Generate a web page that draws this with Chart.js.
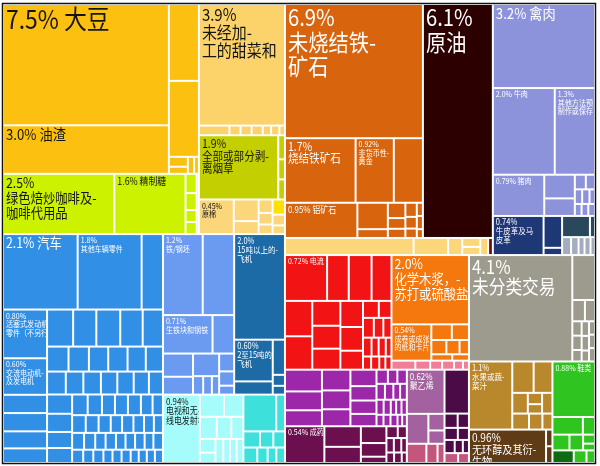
<!DOCTYPE html>
<html>
<head>
<meta charset="utf-8">
<script src="https://cdn.jsdelivr.net/npm/chart.js@4.4.1/dist/chart.umd.min.js"></script>
<style>
  html, body { margin: 0; padding: 0; background: #fff; }
  canvas { display: block; }
</style>
</head>
<body>
<canvas id="myChart" width="600" height="466"></canvas>
<script>
// export shares (%), one small array per coloured block
// vegetable products
const soyValues = [7.5, 3.0, 0.86, 0.85, 0.07, 0.05, 0.04, 0.03];
const soyLabels = ['7.5% 大豆', '3.0% 油渣'];
const limeValues = [2.5, 1.6, 0.08, 0.07, 0.05, 0.05, 0.03, 0.02];
const limeLabels = ['2.5%\n绿色焙炒咖啡及-\n咖啡代用品', '1.6% 精制糖'];
const beetValues = [3.9, 0.11, 0.04, 0.04, 0.04, 0.03, 0.03, 0.02];
const beetLabels = ['3.9%\n未经加-\n工的甜菜和'];
const tobaccoValues = [1.9, 0.06, 0.05, 0.05];
const tobaccoLabels = ['1.9%\n全部或部分剥-\n离烟草'];
const cottonValues = [0.45, 0.2, 0.12, 0.07, 0.06, 0.05, 0.05, 0.04];
const cottonLabels = ['0.45%\n原棉'];
const yelValues = [0.07];

// transport, metals, machines
const carValues = [2.1, 1.8, 0.6,
  0.8, 0.6, 0.3, 0.3, 0.28, 0.24,
  0.36, 0.32, 0.33, 0.31, 0.28,
  0.2, 0.19, 0.18, 0.18, 0.17, 0.16,
  0.16, 0.15, 0.15, 0.14, 0.14, 0.13, 0.12,
  0.18, 0.17, 0.15, 0.14,
  0.12, 0.11, 0.1, 0.1, 0.1, 0.09, 0.08,
  0.09, 0.085, 0.08, 0.075, 0.075, 0.07, 0.065, 0.06,
  0.075, 0.07, 0.065, 0.065, 0.06, 0.06, 0.06, 0.055, 0.06,
  0.055, 0.05, 0.05, 0.045, 0.045, 0.045, 0.04, 0.04, 0.04, 0.04];
const carLabels = ['2.1% 汽车', '1.8%\n其他车辆零件', '', '0.80%\n活塞式发动机-\n零件（不另行列明）', '0.60%\n交流电动机-\n及发电机'];
const steelValues = [1.2, 0.95, 0.71, 0.31, 0.26, 0.2, 0.22, 0.07, 0.06, 0.05, 0.1, 0.08, 0.05];
const steelLabels = ['1.2%\n铁/钢坯', '', '0.71%\n生铁块和钢铁'];
const planeValues = [2.0, 0.6, 0.19, 0.16, 0.05, 0.04];
const planeLabels = ['2.0%\n15吨以上的-\n飞机', '0.60%\n2至15吨的-\n飞机'];
const tvValues = [0.94, 0.2, 0.16, 0.14, 0.12, 0.1, 0.08, 0.06, 0.07, 0.06, 0.06, 0.06];
const tvLabels = ['0.94%\n电视和无-\n线电发射机'];
const turqValues = [0.45, 0.12, 0.1, 0.08, 0.07, 0.08, 0.06, 0.05, 0.05];

// minerals, oil, animal products
const oreValues = [6.9, 1.7, 0.92, 0.7, 0.95, 0.3, 0.1, 0.1, 0.07, 0.06, 0.06, 0.05, 0.04, 0.03, 0.03, 0.02];
const oreLabels = ['6.9%\n未烧结铁-\n矿石', '1.7%\n烧结铁矿石', '0.92%\n非货币性-\n黄金', '', '0.95% 铝矿石'];
const oilValues = [6.1];
const oilLabels = ['6.1%\n原油'];
const stripValues = [0.82, 0.22, 0.09, 0.06, 0.055, 0.05];
const darkredValues = [0.03];
const meatValues = [3.2, 2.0, 1.3, 0.79, 0.27, 0.2, 0.06, 0.05, 0.04, 0.04, 0.03, 0.03, 0.03, 0.03];
const meatLabels = ['3.2% 禽肉', '2.0% 牛肉', '1.3%\n其他方法预\n制作或保存', '0.79% 猪肉'];
const hidesValues = [0.74, 0.22, 0.05];
const hidesLabels = ['0.74%\n牛皮革及马\n皮革'];
const slateValues = [0.22, 0.04];
const hgrayValues = [0.06, 0.05, 0.04, 0.04, 0.03];

// electricity, paper, chemicals, plastics
const redValues = [0.72, 0.37, 0.39, 0.34, 0.36, 0.34, 0.26, 0.24, 0.22, 0.22, 0.2, 0.16,
  0.1, 0.08, 0.08, 0.07, 0.06, 0.06, 0.05, 0.05, 0.04, 0.04, 0.04, 0.03, 0.03];
const redLabels = ['0.72% 电流'];
const pulpValues = [2.0, 0.54, 0.12, 0.1, 0.08, 0.07, 0.05, 0.05, 0.04];
const pulpLabels = ['2.0%\n化学木浆，-\n苏打或硫酸盐', '0.54%\n成卷或成张-\n的纸和卡片'];
const pinkValues = [0.08, 0.05, 0.04, 0.04, 0.03, 0.02];
const purpleValues = [0.3, 0.26, 0.22, 0.22, 0.2, 0.18, 0.16, 0.14, 0.13, 0.12,
  0.06, 0.05, 0.05, 0.05, 0.05, 0.04, 0.04, 0.04, 0.04, 0.03, 0.03, 0.03,
  0.03, 0.03, 0.03, 0.02, 0.02];
const drugValues = [0.54, 0.28, 0.22, 0.16, 0.13, 0.06, 0.05, 0.04, 0.04, 0.04, 0.03, 0.03, 0.03, 0.02];
const drugLabels = ['0.54% 成药'];
const peValues = [0.62, 0.24, 0.1, 0.08];
const peLabels = ['0.62%\n聚乙烯'];
const roseValues = [0.14, 0.08, 0.05];
const dpurpleValues = [0.4, 0.07, 0.06, 0.06, 0.05, 0.05, 0.04, 0.03];
const rose2Values = [0.05, 0.04];

// unclassified, foodstuffs, footwear
const grayValues = [4.1, 0.38, 0.1, 0.08, 0.05, 0.05, 0.04, 0.04, 0.04, 0.03, 0.03, 0.03, 0.03];
const grayLabels = ['4.1%\n未分类交易'];
const juiceValues = [1.1, 0.25, 0.22, 0.12, 0.06, 0.05, 0.08, 0.1, 0.08, 0.06];
const juiceLabels = ['1.1%\n水果或蔬-\n菜汁'];
const alcoholValues = [0.96, 0.04, 0.04];
const alcoholLabels = ['0.96%\n无环醇及其衍-\n生物'];
const shoeValues = [0.88, 0.2, 0.08, 0.1, 0.08, 0.04, 0.03, 0.06, 0.04];
const shoeLabels = ['0.88% 鞋类'];
const dgreenValues = [0.1];

const blocks = {
  soy: [soyValues, soyLabels], lime: [limeValues, limeLabels], beet: [beetValues, beetLabels],
  tobacco: [tobaccoValues, tobaccoLabels], cotton: [cottonValues, cottonLabels], yel: [yelValues, []],
  car: [carValues, carLabels], steel: [steelValues, steelLabels], plane: [planeValues, planeLabels],
  tv: [tvValues, tvLabels], turq: [turqValues, []],
  ore: [oreValues, oreLabels], oil: [oilValues, oilLabels], strip: [stripValues, []], darkred: [darkredValues, []],
  meat: [meatValues, meatLabels], hides: [hidesValues, hidesLabels], slate: [slateValues, []], hgray: [hgrayValues, []],
  red: [redValues, redLabels], pulp: [pulpValues, pulpLabels], pink: [pinkValues, []],
  purple: [purpleValues, []], drug: [drugValues, drugLabels], pe: [peValues, peLabels],
  rose: [roseValues, []], dpurple: [dpurpleValues, []], rose2: [rose2Values, []],
  gray: [grayValues, grayLabels], juice: [juiceValues, juiceLabels], alcohol: [alcoholValues, alcoholLabels],
  shoe: [shoeValues, shoeLabels], dgreen: [dgreenValues, []]
};

const palette = {
  soy: '#FCC010', lime: '#CCF200', beet: '#FBD36A', tobacco: '#C4CF00', cotton: '#FBD67A', yel: '#FFE000',
  car: '#3190E6', steel: '#6A9BF0', plane: '#1C6AA6', tv: '#A6FCFB', turq: '#3EE0DC',
  ore: '#D8650E', oil: '#2D0000', strip: '#FBD67A', darkred: '#6A0A0A',
  meat: '#8D93DB', hides: '#1E3876', slate: '#2A485C', hgray: '#A3ADBD',
  red: '#F21414', pulp: '#F5780E', pink: '#F07E96', purple: '#9D27A9', drug: '#6B0F4F',
  pe: '#A3629F', rose: '#C3567C', dpurple: '#4A0B47', rose2: '#C3567C',
  gray: '#9D9B8D', juice: '#B9882D', alcohol: '#5F3C16', shoe: '#2FC41F', dgreen: '#0F6B12'
};

// nesting: h( ) = side by side, v( ) = stacked, _ = next value of the block
const shapes = {
  root: 'h(leftCol rightCol)',
  leftCol: 'v(vegTop blueBottom)',
  vegTop: 'h(v(soy lime) v(beet tobacco cotton))',
  soy: 'h(v(_ _) v(_ _ h(v(_ _) _ _)))',
  lime: 'h(_ _ v(_ _ _ _) v(_ _))',
  beet: 'v(_ h(_ _ _ _ _ _ _))',
  tobacco: 'h(_ v(_ _ _))',
  cotton: 'h(_ v(_ _) v(_ _ _) v(yel _ _))',
  yel: '_',
  blueBottom: 'h(car v(h(steel plane) h(tv turq)))',
  car: 'v(h(_ _ _) h(v(_ _ _ _ _ _) v(h(_ _ _ _ _) h(_ _ _ _ _ _) h(_ _ _ _ _ _ _) h(v(_ _ _ _) v(h(_ _ _ _ _ _ _) h(_ _ _ _ _ _ _ _) h(_ _ _ _ _ _ _ _ _) h(_ _ _ _ _ _ _ _ _ _))))))',
  steel: 'v(h(_ _) h(_ _) h(v(_ _) v(_ h(_ _ _)) v(_ _ _)))',
  plane: 'v(_ h(v(_ _) v(_ _ _)))',
  tv: 'h(_ v(h(_ _) h(_ _ _) h(v(_ _) _ _ _ _)))',
  turq: 'v(h(_ _) h(_ _ _) h(_ _ _ _))',
  rightCol: 'v(rightTop rightBottom)',
  rightTop: 'h(v(h(ore oil) strip) v(meat hides))',
  ore: 'v(_ h(_ _ _) h(_ v(_ _) v(_ _ _) v(_ _ _) v(_ _ _)))',
  oil: '_',
  strip: 'h(_ _ _ v(_ _) _ darkred)',
  darkred: '_',
  meat: 'v(_ h(_ _) h(_ v(_ _) v(h(_ _) h(_ _ _) h(_ _ _))))',
  hides: 'h(_ v(_ _) v(slate hgray))',
  slate: 'h(_ _)',
  hgray: 'h(_ _ _ _ _)',
  rightBottom: 'h(chem rightB)',
  chem: 'v(h(red pulp) h(v(purple drug) h(pe dpurple)))',
  red: 'v(h(_ _ _ _) h(v(_ _) v(_ _ _) v(_ _ _) v(h(_ _) h(_ _ _) h(_ _ _ _) h(_ _ _ _))))',
  pulp: 'v(_ h(_ v(h(_ _) h(_ _ _) h(_ _))) pink)',
  pink: 'h(_ _ _ _ _ _)',
  purple: 'h(v(_ _ _) v(_ _ _) v(_ _ _ _) v(h(_ _ _) h(_ _ _ _) h(_ _ _ _ _) h(_ _ _ _ _)))',
  drug: 'h(_ v(_ _) v(_ _ _) v(h(_ _) h(_ _ _) h(_ _ _)))',
  pe: 'v(_ h(_ v(_ _)) rose)',
  rose: 'h(_ _ _)',
  dpurple: 'v(_ h(_ _) h(_ _) h(_ _ _) rose2)',
  rose2: 'h(_ _)',
  rightB: 'v(gray h(v(juice alcohol) shoe))',
  gray: 'h(_ v(_ h(_ _) h(v(_ _ _) v(_ _ _) v(_ _ _))))',
  juice: 'h(_ v(h(_ _) h(_ v(_ _) _) h(_ _ _)))',
  alcohol: 'h(_ v(_ _))',
  shoe: 'v(_ h(_ _) h(_ _ v(_ _)) h(dgreen _ _))',
  dgreen: '_'
};

const labelFont = {
  '7.5% 大豆': 26, '3.0% 油渣': 15, '2.5%\n绿色焙炒咖啡及-\n咖啡代用品': 14, '1.6% 精制糖': 10,
  '3.9%\n未经加-\n工的甜菜和': 17, '1.9%\n全部或部分剥-\n离烟草': 12, '0.45%\n原棉': 8,
  '6.9%\n未烧结铁-\n矿石': 23, '6.1%\n原油': 23, '3.2% 禽肉': 15, '2.0% 牛肉': 8,
  '1.3%\n其他方法预\n制作或保存': 8, '0.79% 猪肉': 8, '0.74%\n牛皮革及马\n皮革': 8.5,
  '1.7%\n烧结铁矿石': 12, '0.92%\n非货币性-\n黄金': 8, '0.95% 铝矿石': 9,
  '2.1% 汽车': 14, '1.8%\n其他车辆零件': 8, '1.2%\n铁/钢坯': 8, '0.71%\n生铁块和钢铁': 8,
  '2.0%\n15吨以上的-\n飞机': 8.5, '0.60%\n2至15吨的-\n飞机': 8.5, '0.94%\n电视和无-\n线电发射机': 9,
  '2.0%\n化学木浆，-\n苏打或硫酸盐': 14, '4.1%\n未分类交易': 19, '0.96%\n无环醇及其衍-\n生物': 11.5,
  '0.62%\n聚乙烯': 9, '1.1%\n水果或蔬-\n菜汁': 8.5
};

function build(name) {
  const [vals, labs] = blocks[name] || [[], []];
  const toks = shapes[name].match(/[hv]\(|\)|_|[a-zA-Z]\w*/g);
  let p = 0, k = 0;
  function node() {
    const t = toks[p++];
    if (t === '_') {
      const i = k++;
      return { value: vals[i], label: labs[i] || '', color: palette[name] };
    }
    if (t === 'h(' || t === 'v(') {
      const kids = [];
      while (toks[p] !== ')') kids.push(node());
      p++;
      return { dir: t[0], kids, value: kids.reduce((s, c) => s + c.value, 0) };
    }
    return build(t);
  }
  return node();
}

function place(n, x0, y0, x1, y1, out) {
  if (!n.kids) { out.push(Object.assign({ x0, y0, x1, y1 }, n)); return; }
  let pos = n.dir === 'h' ? x0 : y0;
  const span = n.dir === 'h' ? x1 - x0 : y1 - y0;
  n.kids.forEach(c => {
    const step = span * c.value / n.value;
    if (n.dir === 'h') place(c, pos, y0, pos + step, y1, out);
    else place(c, x0, pos, x1, pos + step, out);
    pos += step;
  });
}

const cells = [];
place(build('root'), 0, 0, 1, 1, cells);

function textColor(hex) {
  const r = parseInt(hex.substr(1, 2), 16), g = parseInt(hex.substr(3, 2), 16), b = parseInt(hex.substr(5, 2), 16);
  return (0.299 * r + 0.587 * g + 0.114 * b) > 170 ? '#151515' : '#ffffff';
}

const treemapCells = {
  id: 'treemapCells',
  beforeDatasetsDraw(chart) {
    const { ctx, chartArea } = chart;
    const x = chart.scales.x, y = chart.scales.y;
    ctx.save();
    ctx.fillStyle = '#ffffff';
    ctx.fillRect(chartArea.left, chartArea.top, chartArea.width, chartArea.height);
    cells.forEach(c => {
      c.px0 = x.getPixelForValue(c.x0); c.px1 = x.getPixelForValue(c.x1);
      c.py0 = y.getPixelForValue(c.y0); c.py1 = y.getPixelForValue(c.y1);
      ctx.fillStyle = c.color;
      ctx.fillRect(c.px0 + 1, c.py0 + 1, c.px1 - c.px0 - 2, c.py1 - c.py0 - 2);
    });
    cells.filter(c => c.label).forEach(c => {
      const size = labelFont[c.label] || 8;
      ctx.save();
      ctx.beginPath();
      ctx.rect(c.px0 + 1, c.py0 + 1, c.px1 - c.px0 - 2, c.py1 - c.py0 - 2);
      ctx.clip();
      // the original labels use a slightly narrow face
      ctx.translate(c.px0 + 3, c.py0 + 2);
      ctx.scale(0.88, 1);
      ctx.fillStyle = textColor(c.color);
      ctx.font = size + 'px "Noto Sans CJK SC", sans-serif';
      ctx.textBaseline = 'top';
      c.label.split('\n').forEach((line, i) => {
        ctx.fillText(line, 0, i * size * 1.06);
      });
      ctx.restore();
    });
    ctx.strokeStyle = '#111';
    ctx.lineWidth = 1.5;
    ctx.strokeRect(chartArea.left - 0.5, chartArea.top - 0.5, chartArea.width + 1, chartArea.height + 1);
    ctx.restore();
  }
};

new Chart('myChart', {
  type: 'scatter',
  data: { datasets: [{ data: [] }] },
  options: {
    responsive: false,
    animation: false,
    devicePixelRatio: 1,
    layout: { padding: { left: 3, right: 5, top: 4, bottom: 3 } },
    scales: {
      x: { type: 'linear', min: 0, max: 1, display: false },
      y: { type: 'linear', min: 0, max: 1, reverse: true, display: false }
    },
    plugins: { legend: { display: false }, tooltip: { enabled: false } }
  },
  plugins: [treemapCells]
});
</script>
</body>
</html>
